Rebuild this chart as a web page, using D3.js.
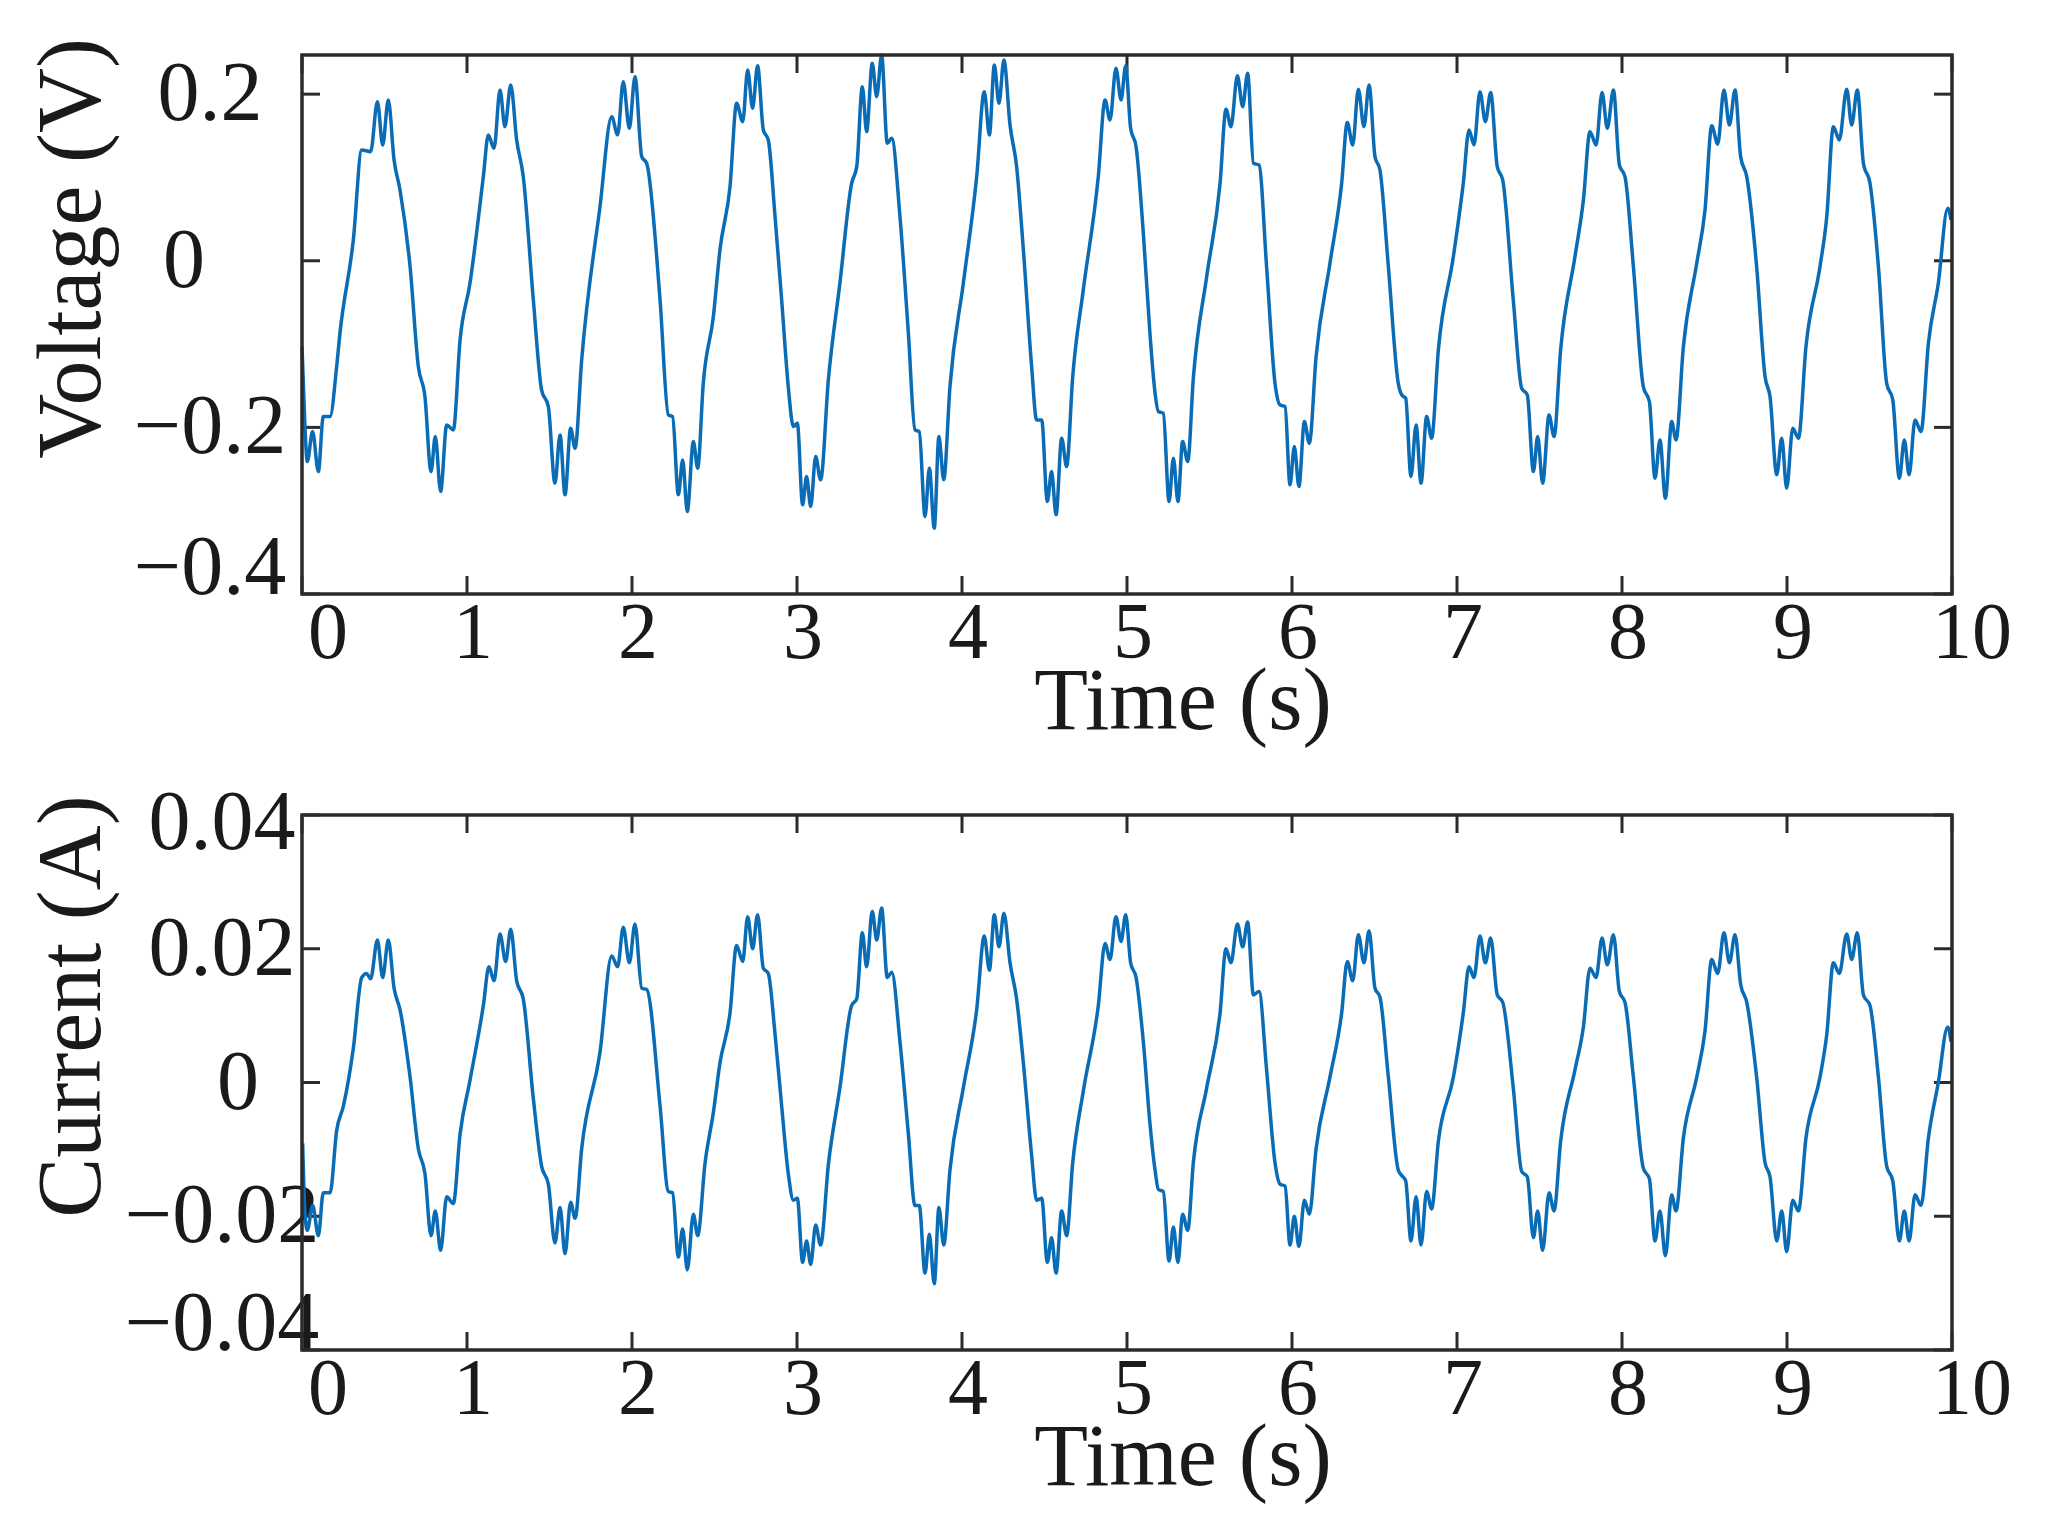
<!DOCTYPE html>
<html>
<head>
<meta charset="utf-8">
<script src="https://cdn.jsdelivr.net/npm/d3@7"></script>
<style>
  body { margin: 0; background: #fff; }
  text { font-family: "Liberation Serif", "DejaVu Serif", serif; fill: #1a1a1a; }
</style>
</head>
<body>
<svg id="chart" width="2059" height="1535"></svg>
<script>
// values
var voltT = [0,0.018,0.032,0.064,0.099,0.129,0.17,0.21,0.23,0.311,0.362,0.416,0.457,0.489,0.523,0.558,0.594,0.655,0.705,0.745,0.782,0.808,0.84,0.877,0.917,0.958,1.018,1.099,1.129,1.164,1.2,1.23,1.265,1.301,1.341,1.402,1.452,1.493,1.533,1.564,1.594,1.628,1.655,1.695,1.806,1.877,1.913,1.947,1.984,2.018,2.059,2.089,2.17,2.22,2.246,2.281,2.307,2.335,2.372,2.398,2.432,2.493,2.533,2.594,2.634,2.671,2.701,2.731,2.761,2.796,2.826,2.867,2.907,2.947,2.978,3.002,3.034,3.058,3.083,3.113,3.143,3.19,3.26,3.331,3.362,3.396,3.422,3.456,3.483,3.513,3.547,3.574,3.624,3.675,3.715,3.741,3.776,3.802,3.832,3.86,3.889,3.927,4.008,4.089,4.135,4.166,4.196,4.224,4.254,4.291,4.331,4.372,4.422,4.452,4.483,4.517,4.543,4.57,4.604,4.634,4.671,4.735,4.826,4.867,4.897,4.933,4.964,4.992,5.022,5.055,5.099,5.139,5.17,5.19,5.22,5.255,5.281,5.309,5.337,5.368,5.402,5.483,5.564,5.6,5.63,5.669,5.701,5.731,5.766,5.8,5.846,5.897,5.927,5.958,5.988,6.014,6.042,6.075,6.105,6.146,6.23,6.301,6.335,6.368,6.402,6.436,6.467,6.503,6.533,6.584,6.644,6.665,6.689,6.721,6.752,6.782,6.816,6.846,6.887,6.978,7.038,7.073,7.103,7.139,7.172,7.204,7.244,7.277,7.341,7.392,7.426,7.463,7.489,7.519,7.558,7.588,7.628,7.715,7.766,7.806,7.843,7.879,7.911,7.948,7.984,8.018,8.069,8.129,8.166,8.2,8.23,8.263,8.301,8.327,8.372,8.453,8.503,8.544,8.58,8.618,8.651,8.685,8.719,8.756,8.816,8.867,8.897,8.938,8.968,8.998,9.035,9.069,9.115,9.2,9.241,9.281,9.317,9.362,9.392,9.426,9.463,9.503,9.554,9.604,9.641,9.681,9.711,9.74,9.776,9.812,9.857,9.917,9.974,9.994];
var voltV = [-0.103,-0.2,-0.241,-0.205,-0.253,-0.187,-0.187,-0.127,-0.087,0.025,0.133,0.131,0.191,0.139,0.193,0.121,0.085,-0.007,-0.127,-0.163,-0.253,-0.211,-0.277,-0.197,-0.203,-0.095,-0.027,0.101,0.151,0.135,0.205,0.161,0.211,0.145,0.101,-0.047,-0.155,-0.175,-0.267,-0.209,-0.281,-0.201,-0.225,-0.119,0.065,0.173,0.151,0.215,0.159,0.221,0.125,0.117,-0.047,-0.185,-0.187,-0.281,-0.239,-0.301,-0.217,-0.249,-0.147,-0.067,0.013,0.089,0.189,0.167,0.229,0.183,0.234,0.157,0.145,0.053,-0.047,-0.151,-0.199,-0.195,-0.293,-0.259,-0.295,-0.235,-0.263,-0.143,-0.027,0.093,0.113,0.209,0.155,0.237,0.197,0.247,0.141,0.147,0.053,-0.087,-0.203,-0.205,-0.307,-0.249,-0.321,-0.211,-0.263,-0.151,-0.027,0.101,0.203,0.151,0.235,0.189,0.241,0.163,0.113,0.013,-0.127,-0.191,-0.191,-0.289,-0.253,-0.305,-0.213,-0.247,-0.139,-0.035,0.101,0.193,0.169,0.231,0.193,0.234,0.159,0.137,0.033,-0.087,-0.159,-0.181,-0.183,-0.289,-0.237,-0.289,-0.217,-0.241,-0.141,-0.019,0.093,0.182,0.161,0.222,0.185,0.225,0.117,0.115,-0.007,-0.147,-0.173,-0.175,-0.269,-0.223,-0.271,-0.193,-0.219,-0.115,-0.003,0.093,0.166,0.139,0.206,0.161,0.211,0.125,0.109,-0.007,-0.147,-0.161,-0.165,-0.259,-0.197,-0.267,-0.187,-0.213,-0.107,0.005,0.093,0.157,0.139,0.203,0.167,0.202,0.113,0.097,-0.047,-0.153,-0.161,-0.253,-0.211,-0.267,-0.185,-0.211,-0.107,0.005,0.073,0.155,0.139,0.202,0.159,0.205,0.115,0.101,-0.007,-0.151,-0.169,-0.261,-0.215,-0.285,-0.193,-0.215,-0.103,-0.003,0.061,0.162,0.14,0.205,0.163,0.205,0.125,0.101,-0.007,-0.139,-0.163,-0.257,-0.213,-0.273,-0.201,-0.213,-0.103,-0.007,0.053,0.161,0.145,0.206,0.163,0.205,0.117,0.093,-0.007,-0.147,-0.167,-0.261,-0.215,-0.257,-0.191,-0.205,-0.099,-0.027,0.063,0.049];

var currT = [0.004,0.018,0.032,0.065,0.099,0.129,0.17,0.21,0.251,0.311,0.362,0.392,0.416,0.457,0.489,0.523,0.558,0.594,0.655,0.705,0.745,0.782,0.808,0.84,0.877,0.917,0.958,1.018,1.099,1.133,1.164,1.2,1.234,1.265,1.301,1.341,1.402,1.452,1.493,1.533,1.564,1.594,1.628,1.655,1.695,1.806,1.877,1.913,1.947,1.984,2.018,2.059,2.089,2.17,2.22,2.246,2.281,2.307,2.335,2.372,2.398,2.443,2.493,2.533,2.594,2.634,2.671,2.701,2.731,2.761,2.796,2.826,2.867,2.907,2.947,2.978,3.002,3.034,3.058,3.083,3.113,3.143,3.19,3.26,3.331,3.362,3.396,3.422,3.456,3.483,3.513,3.547,3.574,3.624,3.675,3.715,3.741,3.776,3.802,3.832,3.86,3.889,3.927,4.008,4.089,4.135,4.166,4.196,4.224,4.254,4.291,4.331,4.372,4.422,4.452,4.483,4.517,4.543,4.57,4.604,4.634,4.671,4.735,4.826,4.867,4.897,4.933,4.964,4.992,5.022,5.055,5.099,5.139,5.17,5.19,5.22,5.255,5.281,5.309,5.337,5.368,5.402,5.483,5.564,5.6,5.63,5.669,5.701,5.731,5.766,5.8,5.846,5.897,5.927,5.958,5.988,6.014,6.042,6.075,6.105,6.146,6.23,6.301,6.335,6.368,6.402,6.436,6.467,6.503,6.533,6.584,6.644,6.665,6.689,6.721,6.752,6.782,6.816,6.846,6.887,6.978,7.038,7.073,7.103,7.139,7.172,7.204,7.244,7.277,7.341,7.392,7.426,7.463,7.489,7.519,7.558,7.588,7.628,7.715,7.766,7.806,7.843,7.879,7.911,7.948,7.984,8.018,8.069,8.129,8.166,8.2,8.23,8.263,8.301,8.327,8.372,8.453,8.503,8.544,8.58,8.618,8.651,8.685,8.719,8.756,8.816,8.867,8.897,8.938,8.968,8.998,9.035,9.069,9.115,9.2,9.241,9.281,9.317,9.362,9.392,9.426,9.463,9.503,9.554,9.604,9.641,9.681,9.711,9.74,9.776,9.812,9.857,9.917,9.974,9.994];
var currV = [-0.0091,-0.0195,-0.0221,-0.0184,-0.0229,-0.0165,-0.0165,-0.0072,-0.0035,0.0051,0.0157,0.0163,0.0155,0.0213,0.0157,0.0213,0.0141,0.0109,0.0008,-0.0099,-0.0136,-0.0229,-0.0192,-0.0251,-0.0171,-0.0181,-0.0077,0.0003,0.0115,0.0173,0.0152,0.0222,0.0181,0.0229,0.0152,0.0125,-0.0024,-0.0125,-0.0152,-0.024,-0.0187,-0.0256,-0.0179,-0.0203,-0.0099,0.0045,0.0189,0.0173,0.0232,0.0179,0.0237,0.0141,0.0139,-0.0035,-0.0163,-0.0165,-0.0261,-0.0219,-0.028,-0.0197,-0.0229,-0.012,-0.0045,0.0029,0.0104,0.0205,0.0181,0.0248,0.02,0.0251,0.0171,0.0163,0.0072,-0.0035,-0.0136,-0.0176,-0.0173,-0.0269,-0.0237,-0.0272,-0.0213,-0.0243,-0.0123,-0.0008,0.0115,0.0125,0.0224,0.0173,0.0256,0.0213,0.0261,0.0157,0.0165,0.0061,-0.0077,-0.0184,-0.0184,-0.0285,-0.0227,-0.0301,-0.0187,-0.0243,-0.0131,-0.0008,0.0109,0.0219,0.0168,0.0251,0.0203,0.0253,0.0179,0.0125,0.0029,-0.0109,-0.0176,-0.0173,-0.0269,-0.0232,-0.0285,-0.0192,-0.0229,-0.012,-0.0013,0.0115,0.0208,0.0184,0.0248,0.0211,0.0251,0.0179,0.0157,0.0061,-0.0061,-0.0131,-0.016,-0.0163,-0.0267,-0.0216,-0.0269,-0.0197,-0.0221,-0.012,-0.0008,0.0104,0.02,0.0179,0.0237,0.0203,0.024,0.0131,0.0136,0.0019,-0.012,-0.0152,-0.0155,-0.0243,-0.02,-0.0245,-0.0176,-0.0197,-0.0099,0.0008,0.0104,0.0181,0.0152,0.0221,0.0179,0.0227,0.0141,0.0128,0.0008,-0.0131,-0.0139,-0.0147,-0.0237,-0.0171,-0.0243,-0.0163,-0.0189,-0.0088,0.0008,0.0104,0.0173,0.0157,0.0219,0.0179,0.0216,0.0131,0.012,-0.0008,-0.0133,-0.0141,-0.0232,-0.0192,-0.0251,-0.0165,-0.0192,-0.0088,0.0019,0.0083,0.0171,0.0157,0.0216,0.0176,0.0221,0.0136,0.012,0.0008,-0.0128,-0.0144,-0.0237,-0.0192,-0.0259,-0.0168,-0.0192,-0.0083,0.0008,0.0077,0.0184,0.0163,0.0224,0.0179,0.0221,0.0147,0.012,0.0008,-0.012,-0.0141,-0.0237,-0.0192,-0.0253,-0.0176,-0.0192,-0.0083,0.0008,0.0072,0.0179,0.0163,0.0222,0.0184,0.0224,0.0131,0.0115,0.0008,-0.0125,-0.0147,-0.0237,-0.0192,-0.0237,-0.0168,-0.0184,-0.0083,0,0.0083,0.0061];

var timeTicks = [0,1,2,3,4,5,6,7,8,9,10];
var voltTicks = [0.2,0,-0.2,-0.4];
var currTicks = [0.04,0.02,0,-0.02,-0.04];

var svg = d3.select("#chart");
var left = 302, right = 1952;
var lineColor = "#0b6cb6", axisColor = "#2b2b2b";

function fmt(v) {
	if (v === 0) return "0";
	var s = Math.abs(v).toString();
	return (v < 0 ? "\u2212" : "") + s;
}

function panel(opts) {
	var x = d3.scaleLinear().domain([0, 10]).range([left, right]);
	var y = d3.scaleLinear().domain(opts.domain).range([opts.bottom, opts.top]);
	var g = svg.append("g");

	// ticks inward on all four sides
	timeTicks.forEach(function(t) {
		g.append("line").attr("x1", x(t)).attr("x2", x(t))
			.attr("y1", opts.bottom).attr("y2", opts.bottom - 18)
			.attr("stroke", axisColor).attr("stroke-width", 3);
		g.append("line").attr("x1", x(t)).attr("x2", x(t))
			.attr("y1", opts.top).attr("y2", opts.top + 18)
			.attr("stroke", axisColor).attr("stroke-width", 3);
		var dx = t === 0 ? 26 : (t === 10 ? 20 : 6);
		g.append("text").attr("x", x(t) + dx).attr("y", opts.bottom + 64)
			.attr("text-anchor", "middle").attr("font-size", 80).text(t);
	});
	opts.ticks.forEach(function(v, i) {
		g.append("line").attr("x1", left).attr("x2", left + 18)
			.attr("y1", y(v)).attr("y2", y(v))
			.attr("stroke", axisColor).attr("stroke-width", 3);
		g.append("line").attr("x1", right).attr("x2", right - 18)
			.attr("y1", y(v)).attr("y2", y(v))
			.attr("stroke", axisColor).attr("stroke-width", 3);
		var last = i === opts.ticks.length - 1;
		var first = opts.ticks[0] === opts.domain[1] && i === 0;
		g.append("text")
			.attr("x", v === 0 ? opts.zeroX : opts.labelX)
			.attr("y", y(v) + 26 - (last ? 26 : 0) + (first ? 8 : 0))
			.attr("text-anchor", "middle").attr("font-size", 84).text(fmt(v));
	});

	var line = d3.line()
		.x(function(d) { return x(d[0]); })
		.y(function(d) { return y(d[1]); })
		.curve(d3.curveMonotoneX);
	var pts = opts.t.map(function(t, i) { return [t, opts.v[i]]; });
	g.append("path").datum(pts).attr("d", line)
		.attr("fill", "none").attr("stroke", lineColor)
		.attr("stroke-width", 3.5).attr("stroke-linejoin", "round");

	g.append("rect").attr("x", left).attr("y", opts.top)
		.attr("width", right - left).attr("height", opts.bottom - opts.top)
		.attr("fill", "none").attr("stroke", axisColor).attr("stroke-width", 3.5);

	g.append("text").attr("x", 1183).attr("y", opts.bottom + 135)
		.attr("text-anchor", "middle").attr("font-size", 88).text("Time (s)");
	g.append("text")
		.attr("transform", "translate(" + opts.titleX + "," + ((opts.top + opts.bottom) / 2 - 76) + ") rotate(-90)")
		.attr("text-anchor", "middle").attr("font-size", 90).text(opts.title);
}

panel({ top: 55, bottom: 594, domain: [-0.4, 0.247], ticks: voltTicks,
	t: voltT, v: voltV, title: "Voltage (V)", titleX: 100, labelX: 210, zeroX: 184 });
panel({ top: 815, bottom: 1350, domain: [-0.04, 0.04], ticks: currTicks,
	t: currT, v: currV, title: "Current (A)", titleX: 100, labelX: 222, zeroX: 238 });
</script>
</body>
</html>
